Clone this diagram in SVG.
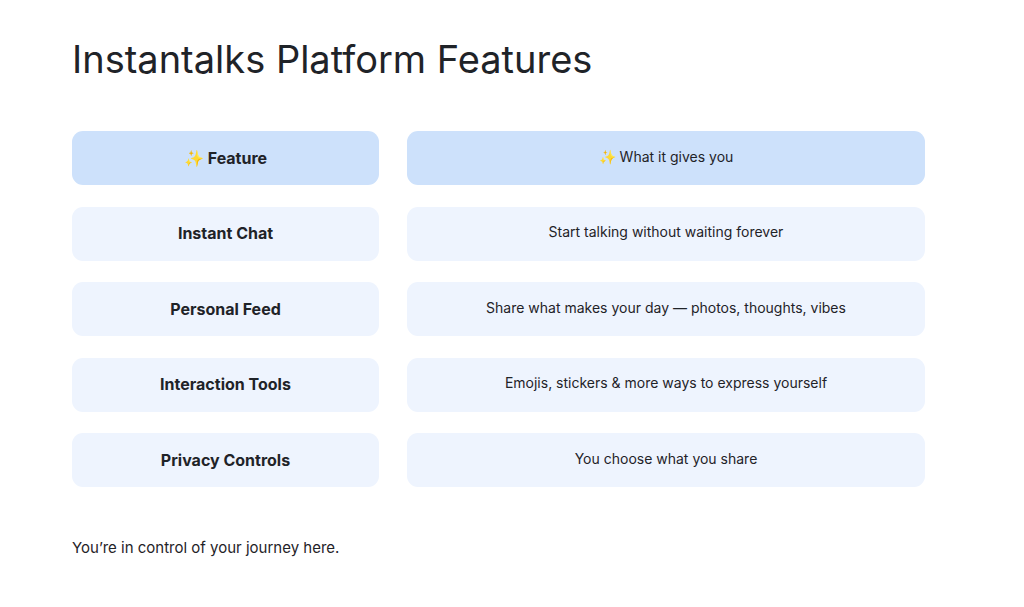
<svg xmlns="http://www.w3.org/2000/svg" width="1024" height="607" viewBox="0 0 1024 607">
<style>
text{font-family:Inter,"Noto Sans","DejaVu Sans",sans-serif;fill:#1f2328}
.h{fill:#cde1fb}.r{fill:#eef4fe}
.k{font-size:16px;font-weight:700;text-anchor:middle}
.v{font-size:14px;text-anchor:middle}
.s{fill:#f2cf5b}
</style>
<rect width="1024" height="607" fill="#fff"/>
<text x="72" y="73" font-size="38" fill="#1f2328">Instantalks Platform Features</text>
<g id="hdr-feature"><rect class="h" x="72" y="131" width="307" height="54" rx="11"/><text class="k" x="225.5" y="164"><tspan class="s">✨</tspan> Feature</text></g>
<g id="hdr-gives"><rect class="h" x="407" y="131" width="518" height="54" rx="11"/><text class="v" x="666" y="162"><tspan class="s">✨</tspan> What it gives you</text></g>
<g id="f1"><rect class="r" x="72" y="207" width="307" height="54" rx="11"/><text class="k" x="225.5" y="239">Instant Chat</text></g>
<g id="d1"><rect class="r" x="407" y="207" width="518" height="54" rx="11"/><text class="v" x="666" y="237">Start talking without waiting forever</text></g>
<g id="f2"><rect class="r" x="72" y="282" width="307" height="54" rx="11"/><text class="k" x="225.5" y="315">Personal Feed</text></g>
<g id="d2"><rect class="r" x="407" y="282" width="518" height="54" rx="11"/><text class="v" x="666" y="313">Share what makes your day — photos, thoughts, vibes</text></g>
<g id="f3"><rect class="r" x="72" y="358" width="307" height="54" rx="11"/><text class="k" x="225.5" y="390">Interaction Tools</text></g>
<g id="d3"><rect class="r" x="407" y="358" width="518" height="54" rx="11"/><text class="v" x="666" y="388">Emojis, stickers &amp; more ways to express yourself</text></g>
<g id="f4"><rect class="r" x="72" y="433" width="307" height="54" rx="11"/><text class="k" x="225.5" y="466">Privacy Controls</text></g>
<g id="d4"><rect class="r" x="407" y="433" width="518" height="54" rx="11"/><text class="v" x="666" y="464">You choose what you share</text></g>
<g id="connectors"/>
<text x="72" y="553" font-size="15">You’re in control of your journey here.</text>
</svg>
